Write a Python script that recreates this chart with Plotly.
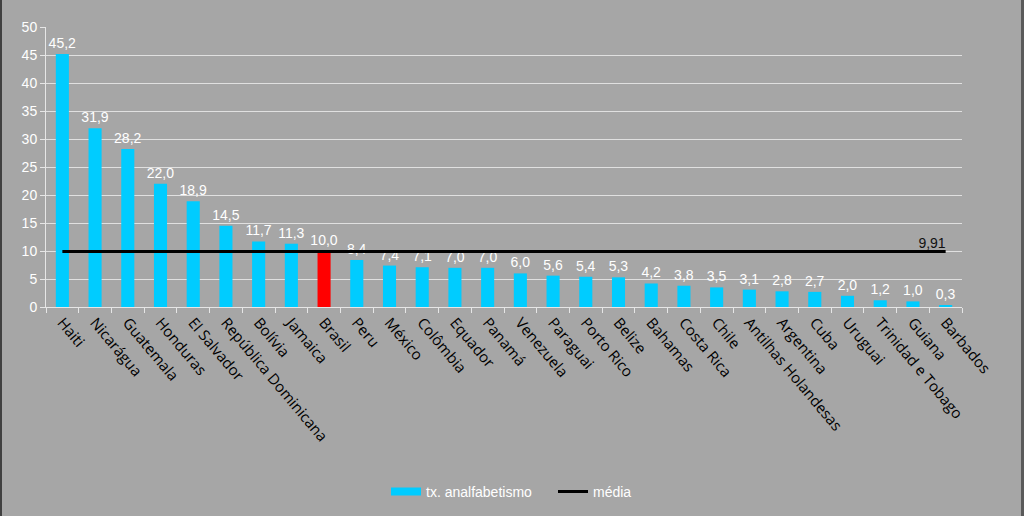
import plotly.graph_objects as go

countries = ["Haiti", "Nicarágua", "Guatemala", "Honduras", "El Salvador", "República Dominicana",
             "Bolívia", "Jamaica", "Brasil", "Peru", "México", "Colômbia", "Equador", "Panamá",
             "Venezuela", "Paraguai", "Porto Rico", "Belize", "Bahamas", "Costa Rica", "Chile",
             "Antilhas Holandesas", "Argentina", "Cuba", "Uruguai", "Trinidad e Tobago", "Guiana", "Barbados"]
rates = [45.2, 31.9, 28.2, 22.0, 18.9, 14.5, 11.7, 11.3, 10.0, 8.4, 7.4, 7.1, 7.0, 7.0,
         6.0, 5.6, 5.4, 5.3, 4.2, 3.8, 3.5, 3.1, 2.8, 2.7, 2.0, 1.2, 1.0, 0.3]
mean_value = 9.91
y_ticks = [0, 5, 10, 15, 20, 25, 30, 35, 40, 45, 50]

CYAN = "#00ccff"
bar_colors = ["#ff0000" if c == "Brasil" else CYAN for c in countries]
labels = [f"{v:.1f}".replace(".", ",") for v in rates]

W, H = 1024, 516
ML, MR, MT, MB = 46, 62, 27, 209
PW = W - ML - MR

fig = go.Figure()
fig.add_trace(go.Bar(
    x=countries, y=rates, name="tx. analfabetismo", showlegend=False,
    marker=dict(color=bar_colors, line=dict(width=0)),
    text=labels, textposition="outside", cliponaxis=False, constraintext="none",
    textfont=dict(color="white", size=14, family="Liberation Sans"),
))
# legend entry for the bar series (wide swatch like the original)
fig.add_trace(go.Scatter(
    x=[None], y=[None], name="tx. analfabetismo", mode="lines",
    line=dict(color=CYAN, width=8),
))
mean_text = [""] * (len(countries) - 1) + [f"{mean_value:.2f}".replace(".", ",")]
fig.add_trace(go.Scatter(
    x=countries, y=[mean_value] * len(countries), name="média",
    mode="lines+text", line=dict(color="black", width=3),
    text=mean_text, textposition="top left",
    textfont=dict(color="#111111", size=14, family="Liberation Sans"),
    cliponaxis=False,
))

fig.update_layout(
    width=W, height=H,
    paper_bgcolor="#a6a6a6", plot_bgcolor="#a6a6a6",
    margin=dict(l=ML, r=MR, t=MT, b=MB, autoexpand=False),
    bargap=0.6,
    showlegend=True,
    legend=dict(orientation="h", x=(386 - ML) / PW, xanchor="left", y=-0.66, yanchor="middle",
                font=dict(color="white", size=14, family="Liberation Sans"),
                bgcolor="rgba(0,0,0,0)", itemwidth=30,
                entrywidth=122, entrywidthmode="pixels"),
    xaxis=dict(range=[-0.5, len(countries) - 0.5],
               tickangle=50, tickfont=dict(color="black", size=15, family="Open Sans"),
               showline=True, linecolor="#e6e6e6", linewidth=1,
               ticks="outside", tickcolor="#e6e6e6", ticklen=5,
               showgrid=False, tickson="boundaries", automargin=False),
    yaxis=dict(range=[0, 50], tickvals=y_ticks, showgrid=True, gridcolor="#e0e0e0", gridwidth=1,
               showline=True, linecolor="#e6e6e6", linewidth=1,
               ticks="outside", tickcolor="#e6e6e6", ticklen=5,
               tickfont=dict(color="white", size=14, family="Liberation Sans"),
               zeroline=False, automargin=False),
    shapes=[
        dict(type="rect", xref="paper", yref="paper", x0=-ML / PW, x1=-(ML - 2) / PW,
             y0=-2, y1=2, fillcolor="#404040", line=dict(width=0), layer="above"),
        dict(type="rect", xref="paper", yref="paper", x0=1 + (MR - 3) / PW, x1=1 + MR / PW,
             y0=-2, y1=2, fillcolor="#5a5a5a", line=dict(width=0), layer="above"),
    ],
)

fig.write_html("out.html", config={"displayModeBar": False},
               post_script="document.body.style.margin='0';document.body.style.overflow='hidden';")
